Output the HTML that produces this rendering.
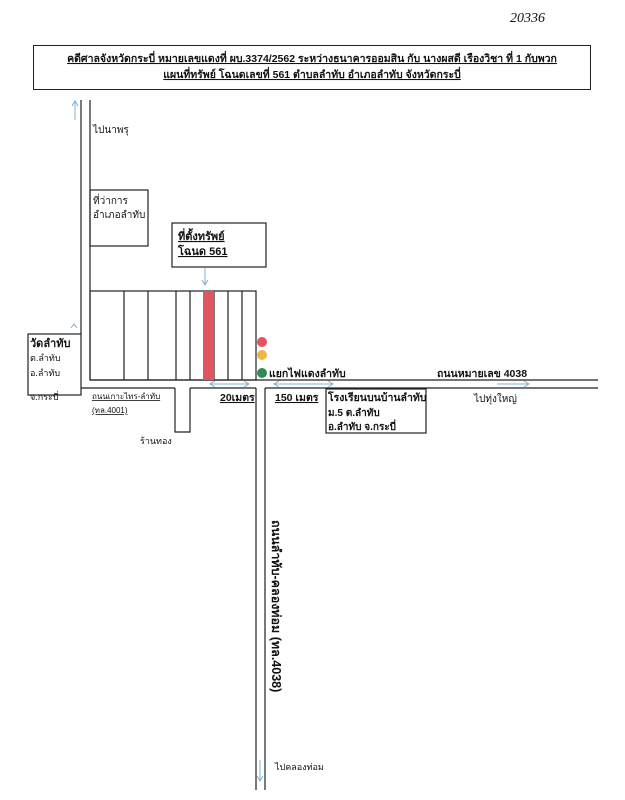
<!DOCTYPE html>
<html><head><meta charset="utf-8"><style>
body{margin:0;background:#fff}
svg{display:block}
text{font-family:"Liberation Sans","Noto Sans CJK SC",sans-serif;fill:#111}
</style></head><body>
<svg width="625" height="800" xmlns="http://www.w3.org/2000/svg">
<text x="510" y="22" font-size="14" style="font-family:'Liberation Serif',serif;font-style:italic" fill="#333">20336</text>
<rect x="33.5" y="45.5" width="557" height="44" fill="none" stroke="#222" stroke-width="1"/>
<text x="312" y="62" font-size="10.5" font-weight="bold" text-anchor="middle" text-decoration="underline">คดีศาลจังหวัดกระบี่ หมายเลขแดงที่ ผบ.3374/2562 ระหว่างธนาคารออมสิน กับ นางผสดี เรืองวิชา ที่ 1 กับพวก</text>
<text x="312" y="78" font-size="10.5" font-weight="bold" text-anchor="middle" text-decoration="underline">แผนที่ทรัพย์ โฉนดเลขที่ 561 ตำบลลำทับ อำเภอลำทับ จังหวัดกระบี่</text>
<g stroke="#222" stroke-width="1.2" fill="none">
<line x1="81" y1="100" x2="81" y2="334"/>
<line x1="90" y1="100" x2="90" y2="380"/>
<line x1="90" y1="380" x2="598" y2="380"/>
<line x1="81" y1="388" x2="175" y2="388"/>
<line x1="190" y1="388" x2="256" y2="388"/>
<line x1="265" y1="388" x2="598" y2="388"/>
<line x1="256" y1="388" x2="256" y2="790"/>
<line x1="265" y1="388" x2="265" y2="790"/>
<path d="M175 388V432H190V388"/>
<rect x="28" y="334" width="53" height="61"/>
<rect x="90" y="190" width="58" height="56"/>
<rect x="172" y="223" width="94" height="44"/>
<rect x="326" y="389" width="100" height="44"/>
<rect x="90" y="291" width="166" height="89"/>
<line x1="124" y1="291" x2="124" y2="380"/>
<line x1="148" y1="291" x2="148" y2="380"/>
<line x1="176" y1="291" x2="176" y2="380"/>
<line x1="190" y1="291" x2="190" y2="380"/>
<line x1="214" y1="291" x2="214" y2="380"/>
<line x1="228" y1="291" x2="228" y2="380"/>
<line x1="242" y1="291" x2="242" y2="380"/>
</g>
<rect x="203" y="291" width="11" height="89" fill="#e0555f"/>
<g stroke="#7fb0d6" stroke-width="1" fill="none">
<path d="M75 120V102M72 106L75 101L78 106"/>
<path d="M205 268V284M202 280L205 285L208 280"/>
<path d="M211 384H248M215 381L210 384L215 387M244 381L249 384L244 387"/>
<path d="M275 384H332M279 381L274 384L279 387M328 381L333 384L328 387"/>
<path d="M497 384H528M524 381L529 384L524 387"/>
<path d="M71 328L74 324L77 328"/>
<path d="M260 760V780M257 776L260 781L263 776"/>
</g>
<circle cx="262" cy="342" r="5" fill="#e0555f"/>
<circle cx="262" cy="355" r="5" fill="#f0b642"/>
<circle cx="262" cy="373" r="5" fill="#2f8a5a"/>
<text x="93" y="133" font-size="10">ไปนาพรุ</text>
<text x="93" y="204" font-size="10">ที่ว่าการ</text>
<text x="93" y="218" font-size="10">อำเภอลำทับ</text>
<text x="178" y="240" font-size="11" font-weight="bold" text-decoration="underline">ที่ตั้งทรัพย์</text>
<text x="178" y="255" font-size="11" font-weight="bold" text-decoration="underline">โฉนด 561</text>
<text x="30" y="347" font-size="11" font-weight="bold">วัดลำทับ</text>
<text x="30" y="361" font-size="9">ต.ลำทับ</text>
<text x="30" y="376" font-size="9">อ.ลำทับ</text>
<text x="30" y="400" font-size="9">จ.กระบี่</text>
<text x="92" y="399" font-size="8" text-decoration="underline">ถนนเกาะไทร-ลำทับ</text>
<text x="92" y="413" font-size="8" text-decoration="underline">(ทล.4001)</text>
<text x="140" y="444" font-size="9">ร้านทอง</text>
<text x="220" y="401" font-size="10.5" font-weight="bold" text-decoration="underline">20เมตร</text>
<text x="275" y="401" font-size="10.5" font-weight="bold" text-decoration="underline">150 เมตร</text>
<text x="269" y="377" font-size="10.5" font-weight="bold">แยกไฟแดงลำทับ</text>
<text x="437" y="377" font-size="10.5" font-weight="bold">ถนนหมายเลข 4038</text>
<text x="474" y="402" font-size="10">ไปทุ่งใหญ่</text>
<text x="328" y="401" font-size="10.5" font-weight="bold">โรงเรียนบนบ้านลำทับ</text>
<text x="328" y="416" font-size="10" font-weight="bold">ม.5 ต.ลำทับ</text>
<text x="328" y="430" font-size="10" font-weight="bold">อ.ลำทับ จ.กระบี่</text>
<text x="272" y="520" font-size="12.5" font-weight="bold" transform="rotate(90 272 520)">ถนนลำทับ-คลองท่อม (ทล.4038)</text>
<text x="275" y="770" font-size="9">ไปคลองท่อม</text>
</svg>
</body></html>
